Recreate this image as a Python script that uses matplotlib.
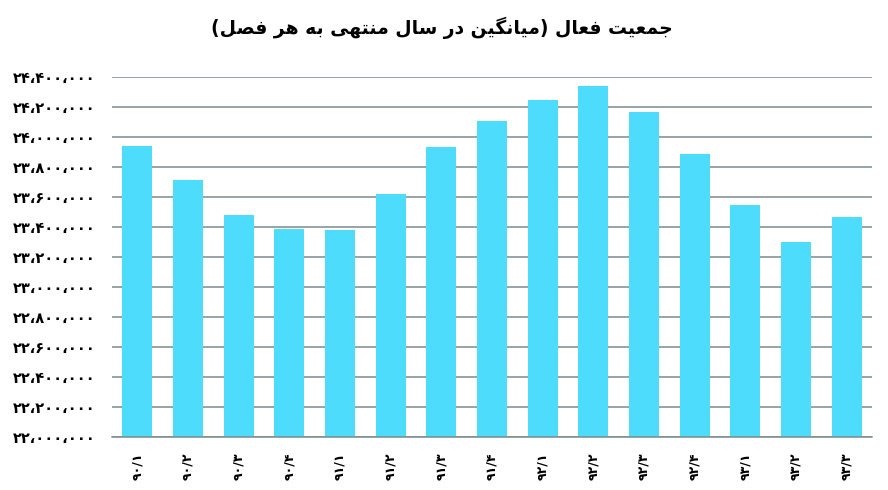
import matplotlib
matplotlib.use('Agg')
import matplotlib.pyplot as plt
import numpy as np

# ---------------------------------------------------------
# data
# ---------------------------------------------------------
title_text = 'جمعیت فعال (میانگین در سال منتهی به هر فصل)'
quarters = ['۹۰/۱', '۹۰/۲', '۹۰/۳', '۹۰/۴',
            '۹۱/۱', '۹۱/۲', '۹۱/۳', '۹۱/۴',
            '۹۲/۱', '۹۲/۲', '۹۲/۳', '۹۲/۴',
            '۹۳/۱', '۹۳/۲', '۹۳/۳']
active_pop = [23942000, 23715000, 23482000, 23389000, 23382000,
              23622000, 23935000, 24109000, 24249000, 24344000,
              24169000, 23889000, 23549000, 23302000, 23471000]
y_ticks = list(range(22000000, 24400001, 200000))

bar_color = '#4ddcfc'
grid_color = '#7b8a8b'

# ---------------------------------------------------------
# minimal arabic/persian shaping (matplotlib does no shaping / bidi)
# ---------------------------------------------------------
# isolated, final, initial, medial
FORMS = {
    'ا': ('\uFE8D', '\uFE8E'),
    'ب': ('\uFE8F', '\uFE90', '\uFE91', '\uFE92'),
    'ت': ('\uFE95', '\uFE96', '\uFE97', '\uFE98'),
    'ج': ('\uFE9D', '\uFE9E', '\uFE9F', '\uFEA0'),
    'د': ('\uFEA9', '\uFEAA'),
    'ر': ('\uFEAD', '\uFEAE'),
    'س': ('\uFEB1', '\uFEB2', '\uFEB3', '\uFEB4'),
    'ص': ('\uFEB9', '\uFEBA', '\uFEBB', '\uFEBC'),
    'ع': ('\uFEC9', '\uFECA', '\uFECB', '\uFECC'),
    'ف': ('\uFED1', '\uFED2', '\uFED3', '\uFED4'),
    'ل': ('\uFEDD', '\uFEDE', '\uFEDF', '\uFEE0'),
    'م': ('\uFEE1', '\uFEE2', '\uFEE3', '\uFEE4'),
    'ن': ('\uFEE5', '\uFEE6', '\uFEE7', '\uFEE8'),
    'ه': ('\uFEE9', '\uFEEA', '\uFEEB', '\uFEEC'),
    'ی': ('\uFBFC', '\uFBFD', '\uFBFE', '\uFBFF'),
    'گ': ('\uFB92', '\uFB93', '\uFB94', '\uFB95'),
}
MIRROR = {'(': ')', ')': '('}


def shape_rtl(text):
    out = []
    for i, c in enumerate(text):
        if c not in FORMS:
            out.append(MIRROR.get(c, c))
            continue
        f = FORMS[c]
        prev_c = text[i - 1] if i > 0 else ''
        next_c = text[i + 1] if i + 1 < len(text) else ''
        join_prev = prev_c in FORMS and len(FORMS[prev_c]) == 4
        join_next = len(f) == 4 and next_c in FORMS
        if join_prev and join_next:
            out.append(f[3])
        elif join_prev:
            out.append(f[1])
        elif join_next:
            out.append(f[2])
        else:
            out.append(f[0])
    return ''.join(reversed(out))


def fa_num(v):
    s = f'{v:,}'.replace(',', '،')
    return s.translate(str.maketrans('0123456789', '۰۱۲۳۴۵۶۷۸۹'))


# ---------------------------------------------------------
# plot
# ---------------------------------------------------------
plt.rcParams['font.family'] = ['DejaVu Sans']

fig = plt.figure(figsize=(8.88, 4.9), dpi=100)
ax = fig.add_axes([0.1261, 0.1076, 0.8559, 0.7346])

x = np.arange(len(quarters))
ax.bar(x, active_pop, width=0.59, color=bar_color, zorder=2)

ax.set_xlim(-0.5, len(quarters) - 0.5)
ax.set_ylim(22000000, 24400000)
ax.set_yticks(y_ticks)
ax.set_yticklabels([fa_num(v) for v in y_ticks], fontsize=10.5, fontweight='bold')
ax.set_xticks(x)
ax.set_xticklabels(quarters, rotation=90, fontsize=9, fontweight='bold')
ax.tick_params(axis='y', length=0, pad=12)
ax.tick_params(axis='x', length=0, pad=11)

ax.grid(axis='y', color=grid_color, linewidth=1.1, zorder=0)
ax.set_axisbelow(True)
for side in ['top', 'right', 'left']:
    ax.spines[side].set_visible(False)
ax.spines['bottom'].set_color(grid_color)
ax.spines['bottom'].set_linewidth(1.1)

fig.text(0.498, 0.943, shape_rtl(title_text), ha='center', va='center',
         fontsize=13.5, fontweight='bold')

fig.savefig('out.png', dpi=100)
